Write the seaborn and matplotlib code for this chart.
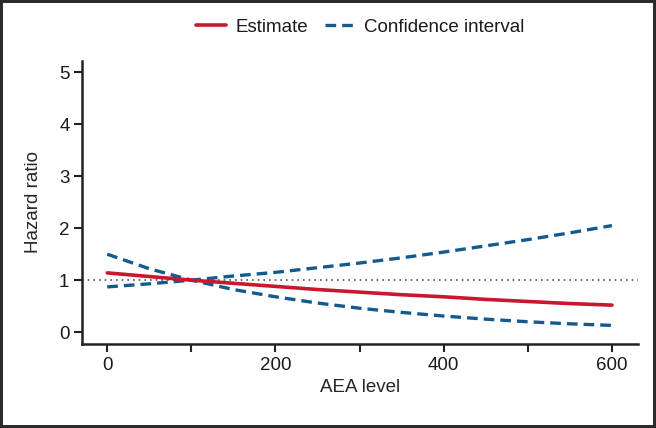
"""Hazard ratio by AEA level"""
import pandas as pd
import matplotlib
matplotlib.use("Agg")
import matplotlib.pyplot as plt
import seaborn as sns

# values (every 50 units of AEA)
aea = [0, 50, 100, 150, 200, 250, 300, 350, 400, 450, 500, 550, 600]
estimate = [1.14, 1.07, 1.00, 0.94, 0.88, 0.82, 0.77, 0.72, 0.68, 0.63, 0.59, 0.55, 0.52]
ci_upper = [0.87, 0.93, 1.00, 1.08, 1.15, 1.24, 1.33, 1.43, 1.54, 1.66, 1.78, 1.91, 2.05]
ci_lower = [1.50, 1.22, 1.00, 0.82, 0.68, 0.56, 0.46, 0.38, 0.31, 0.25, 0.20, 0.16, 0.13]

x_ticks = [0, 100, 200, 300, 400, 500, 600]
x_labels = ["0", "", "200", "", "400", "", "600"]
y_ticks = [0, 1, 2, 3, 4, 5]

RED = "#c8172f"
BLUE = "#135b8e"
FS = 13.5

sns.set_style("ticks")
plt.rcParams["font.family"] = ["Liberation Sans", "DejaVu Sans"]

df = pd.DataFrame({"aea": aea, "est": estimate, "up": ci_upper, "lo": ci_lower})

fig = plt.figure(figsize=(6.56, 4.28), dpi=100)
fig.patch.set_edgecolor("#2b2b2b")
fig.patch.set_linewidth(4)
ax = fig.add_axes([0.125, 0.196, 0.8476, 0.662])

# reference line at HR = 1
ax.axhline(1, color="#555555", lw=1.2, ls=(0, (1, 2.4)), zorder=1)
sns.lineplot(data=df, x="aea", y="up", ax=ax, color=BLUE, lw=2.4,
             dashes=False, label="Confidence interval")
sns.lineplot(data=df, x="aea", y="lo", ax=ax, color=BLUE, lw=2.4,
             dashes=False, label="_ci_lower")
sns.lineplot(data=df, x="aea", y="est", ax=ax, color=RED, lw=2.6, label="Estimate")
for line in ax.lines[1:3]:
    line.set_dashes((3.2, 1.8))
    line.set_dash_capstyle("butt")

ax.set_xlim(-30, 631)
ax.set_ylim(-0.23, 5.22)
ax.set_xticks(x_ticks)
ax.set_xticklabels(x_labels)
ax.set_yticks(y_ticks)
ax.set_xlabel("AEA level", fontsize=FS, labelpad=4)
ax.set_ylabel("Hazard ratio", fontsize=FS, labelpad=12)
ax.tick_params(labelsize=FS, width=1.5, length=6, pad=3,
               color="#222222", labelcolor="#1a1a1a")
for side in ["left", "bottom"]:
    ax.spines[side].set_linewidth(1.8)
    ax.spines[side].set_color("#222222")
sns.despine(ax=ax)

ax.get_legend().remove()
handles, labels = ax.get_legend_handles_labels()
order = [labels.index("Estimate"), labels.index("Confidence interval")]
fig.legend([handles[i] for i in order], [labels[i] for i in order],
           loc="center", bbox_to_anchor=(0.549, 0.936), ncol=2, frameon=False,
           fontsize=FS, handlelength=1.6, columnspacing=0.9, handletextpad=0.5,
           labelcolor="#1a1a1a")

fig.savefig("out.png", dpi=100)
